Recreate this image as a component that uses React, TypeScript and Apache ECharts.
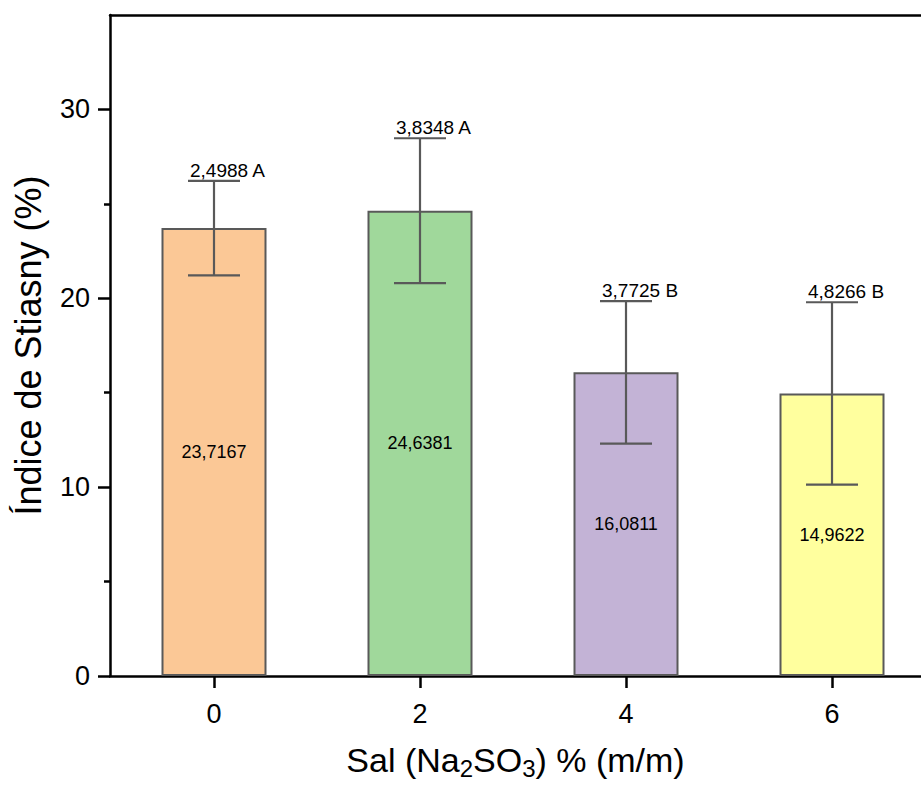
import React, { useEffect, useRef } from "react";
import * as echarts from "echarts";

const saltLevels = [0, 2, 4, 6];
const meanValues = [23.7167, 24.6381, 16.0811, 14.9622];
const stdDevs = [2.4988, 3.8348, 3.7725, 4.8266];
const groupLetters = ["A", "A", "B", "B"];
const barColors = ["#FBC896", "#A0D89B", "#C3B3D6", "#FFFF9E"];
const yTicks = [0, 10, 20, 30];
const yMinorTicks = [5, 15, 25];
const xTicks = [0, 2, 4, 6];

const FONT = "'Liberation Sans', Arial, Helvetica, sans-serif";
const fmt = (v: number) => v.toFixed(4).replace(".", ",");

export default function App() {
  const ref = useRef<HTMLDivElement>(null);
  useEffect(() => {
    if (!ref.current) return;
    const chart = echarts.init(ref.current, undefined, { renderer: "svg" });
    const barData = saltLevels.map((x, i) => ({
      value: [x, meanValues[i]],
      itemStyle: { color: barColors[i] },
    }));
    const errData = saltLevels.map((x, i) => [
      x,
      meanValues[i] - stdDevs[i],
      meanValues[i] + stdDevs[i],
      i,
    ]);
    const xMin = -1.0097;
    const xMax = 6.864;
    chart.setOption({
      animation: false,
      textStyle: { fontFamily: FONT },
      grid: { left: 110, right: 0, top: 15, bottom: 112, containLabel: false, outerBoundsMode: "none" },
      xAxis: [
        {
          type: "value",
          min: xMin,
          max: xMax,
          position: "bottom",
          name: "Sal (Na{sub|2}SO{sub|3}) % (m/m)",
          nameLocation: "middle",
          nameGap: 64,
          nameTextStyle: {
            fontSize: 34,
            color: "#000",
            fontFamily: FONT,
            rich: {
              sub: { fontSize: 24, color: "#000", fontFamily: FONT, padding: [16, 0, 0, 0] },
            },
          },
          axisLine: { show: true, onZero: false, lineStyle: { color: "#000", width: 2.5 } },
          axisTick: { show: true, customValues: xTicks, length: 12, lineStyle: { color: "#000", width: 2.5 } },
          axisLabel: { customValues: xTicks, fontSize: 27, color: "#000", margin: 24, fontFamily: FONT },
          splitLine: { show: false },
        },
        {
          type: "value",
          min: xMin,
          max: xMax,
          position: "top",
          axisLine: { show: true, onZero: false, lineStyle: { color: "#000", width: 2.5 } },
          axisTick: { show: false },
          axisLabel: { show: false },
          splitLine: { show: false },
        },
      ],
      yAxis: [
        {
          type: "value",
          min: 0,
          max: 35,
          position: "left",
          name: "Índice de Stiasny (%)",
          nameLocation: "middle",
          nameGap: 64,
          nameTextStyle: { fontSize: 36, color: "#000", fontFamily: FONT },
          axisLine: { show: true, onZero: false, lineStyle: { color: "#000", width: 2.5 } },
          axisTick: { show: true, customValues: yTicks, length: 12, lineStyle: { color: "#000", width: 2.5 } },
          axisLabel: { customValues: yTicks, fontSize: 27, color: "#000", margin: 20, fontFamily: FONT },
          splitLine: { show: false },
        },
        {
          type: "value",
          min: 0,
          max: 35,
          position: "left",
          axisLine: { show: false, onZero: false },
          axisTick: { show: true, customValues: yMinorTicks, length: 6, lineStyle: { color: "#000", width: 2.5 } },
          axisLabel: { show: false },
          splitLine: { show: false },
        },
      ],
      series: [
        {
          type: "bar",
          xAxisIndex: 0,
          yAxisIndex: 0,
          barWidth: 105,
          data: barData,
          itemStyle: { borderColor: "#595959", borderWidth: 2 },
          label: {
            show: true,
            position: "inside",
            color: "#000",
            fontSize: 18,
            fontFamily: FONT,
            formatter: (p: any) => fmt(p.value[1]),
          },
        },
        {
          type: "custom",
          xAxisIndex: 0,
          yAxisIndex: 0,
          data: errData,
          z: 10,
          renderItem: (params: any, api: any) => {
            const x = api.value(0);
            const lo = api.value(1);
            const hi = api.value(2);
            const idx = api.value(3);
            const pHi = api.coord([x, hi]);
            const pLo = api.coord([x, lo]);
            const hw = 26;
            const ls = { stroke: "#595959", lineWidth: 2.2 };
            return {
              type: "group",
              children: [
                { type: "line", shape: { x1: pHi[0], y1: pHi[1], x2: pLo[0], y2: pLo[1] }, style: ls },
                { type: "line", shape: { x1: pHi[0] - hw, y1: pHi[1], x2: pHi[0] + hw, y2: pHi[1] }, style: ls },
                { type: "line", shape: { x1: pLo[0] - hw, y1: pLo[1], x2: pLo[0] + hw, y2: pLo[1] }, style: ls },
                {
                  type: "text",
                  x: pHi[0] - hw + 2,
                  y: pHi[1] - 1,
                  style: {
                    text: `${fmt(stdDevs[idx])} ${groupLetters[idx]}`,
                    fill: "#000",
                    fontSize: 19,
                    fontFamily: FONT,
                    align: "left",
                    verticalAlign: "bottom",
                  },
                },
              ],
            };
          },
        },
      ],
    });
    return () => chart.dispose();
  }, []);
  return <div ref={ref} style={{ width: 921, height: 788, position: "absolute", left: 0, top: 0 }} />;
}
